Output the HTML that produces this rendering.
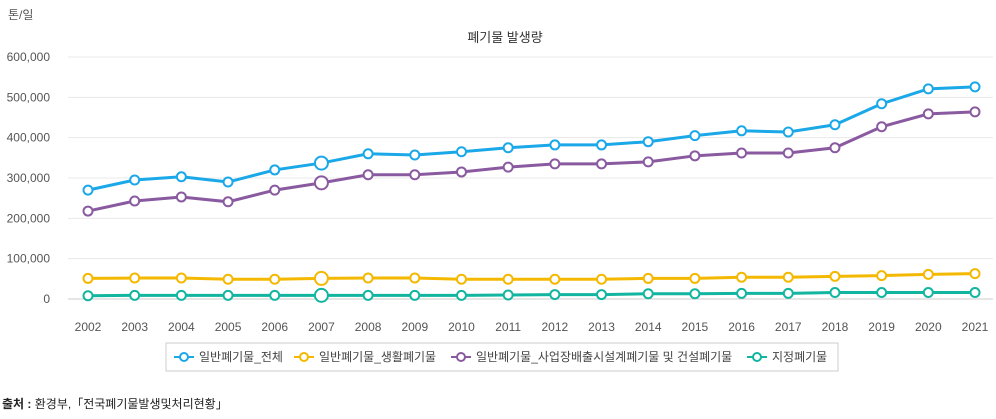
<!DOCTYPE html>
<html><head><meta charset="utf-8"><style>
body{margin:0;background:#fff;font-family:"Liberation Sans","Noto Sans CJK KR",sans-serif;}
svg text{font-family:"Liberation Sans","Noto Sans CJK KR",sans-serif;}
</style></head><body>
<svg id="c" width="996" height="414">
<text x="8" y="19" font-size="12" fill="#555">톤/일</text>
<text x="505" y="42" font-size="13" fill="#333" text-anchor="middle">폐기물 발생량</text>
<g id="grid"></g><g id="series"></g>
<rect x="166" y="343" width="672" height="28" fill="#fff" stroke="#ccc"/>
<g id="legend"></g>
<text x="2" y="408" font-size="12" fill="#222"><tspan font-weight="bold">출처 :</tspan> 환경부,「전국폐기물발생및처리현황」</text>
</svg>
<script>
const years=[2002,2003,2004,2005,2006,2007,2008,2009,2010,2011,2012,2013,2014,2015,2016,2017,2018,2019,2020,2021];
const yTicks=[0,100000,200000,300000,400000,500000,600000];
const totalVals=[270000,295000,303000,290000,320000,337000,360000,357000,365000,375000,382000,382000,390000,405000,417000,414000,432000,484000,521000,526000];
const householdVals=[51000,52000,52000,49000,49000,51000,52000,52000,49000,49000,49000,49000,51000,51000,54000,54000,56000,58000,61000,63000];
const industrialVals=[218000,243000,253000,241000,270000,288000,308000,308000,315000,327000,335000,335000,340000,355000,362000,362000,375000,427000,459000,464000];
const designatedVals=[8000,9000,9000,9000,9000,9000,9000,9000,9000,10000,11000,11000,13000,13000,14000,14000,16000,16000,16000,16000];
const names=["일반폐기물_전체","일반폐기물_생활폐기물","일반폐기물_사업장배출시설계폐기물 및 건설폐기물","지정폐기물"];
const NS="http://www.w3.org/2000/svg";
const x=i=>88+i*(975-88)/(years.length-1);
const y=v=>299-v*(299-57)/600000;
function mk(t,a,p){const e=document.createElementNS(NS,t);for(const k in a)e.setAttribute(k,a[k]);p.appendChild(e);return e;}
const grid=document.getElementById('grid');
yTicks.forEach(v=>{
 const l=mk('line',{x1:68,x2:993,y1:y(v),y2:y(v),stroke:v?'#e8e8e8':'#ccc'},grid);
 
 
 const t=mk('text',{x:50,y:y(v)+4,'font-size':12,fill:'#555','text-anchor':'end'},grid);
 t.textContent=v.toLocaleString('en-US');
 
 
});
years.forEach((yr,i)=>{
 const t=mk('text',{x:x(i),y:331,'font-size':12,fill:'#555','text-anchor':'middle'},grid);
 t.textContent=yr;
 
 
});
const series=[[totalVals,'#1ba8e8'],[householdVals,'#f5b800'],[industrialVals,'#8a5aa0'],[designatedVals,'#12b5a0']];
const sg=document.getElementById('series');
series.forEach(([vals,col],si)=>{
 const g=mk('g',{},sg);
 
 
 mk('polyline',{points:vals.map((v,i)=>x(i)+','+y(v)).join(' '),fill:'none',stroke:col,'stroke-width':3},g);
 vals.forEach((v,i)=>{
  const c=mk('circle',{cx:x(i),cy:y(v),r:i==5?6.5:4.5,fill:'#fff',stroke:col,'stroke-width':2},g);
  
  
 });
});
const lg=document.getElementById('legend');
const lx=[174,294,451,747];
names.forEach((n,i)=>{
 const g=mk('g',{},lg);
 
 
 mk('line',{x1:lx[i],x2:lx[i]+20,y1:357,y2:357,stroke:series[i][1],'stroke-width':2},g);
 mk('circle',{cx:lx[i]+10,cy:357,r:4,fill:'#fff',stroke:series[i][1],'stroke-width':2},g);
 const t=mk('text',{x:lx[i]+25,y:361,'font-size':12,fill:'#444'},g);
 t.textContent=n;
});
</script>
</body></html>
